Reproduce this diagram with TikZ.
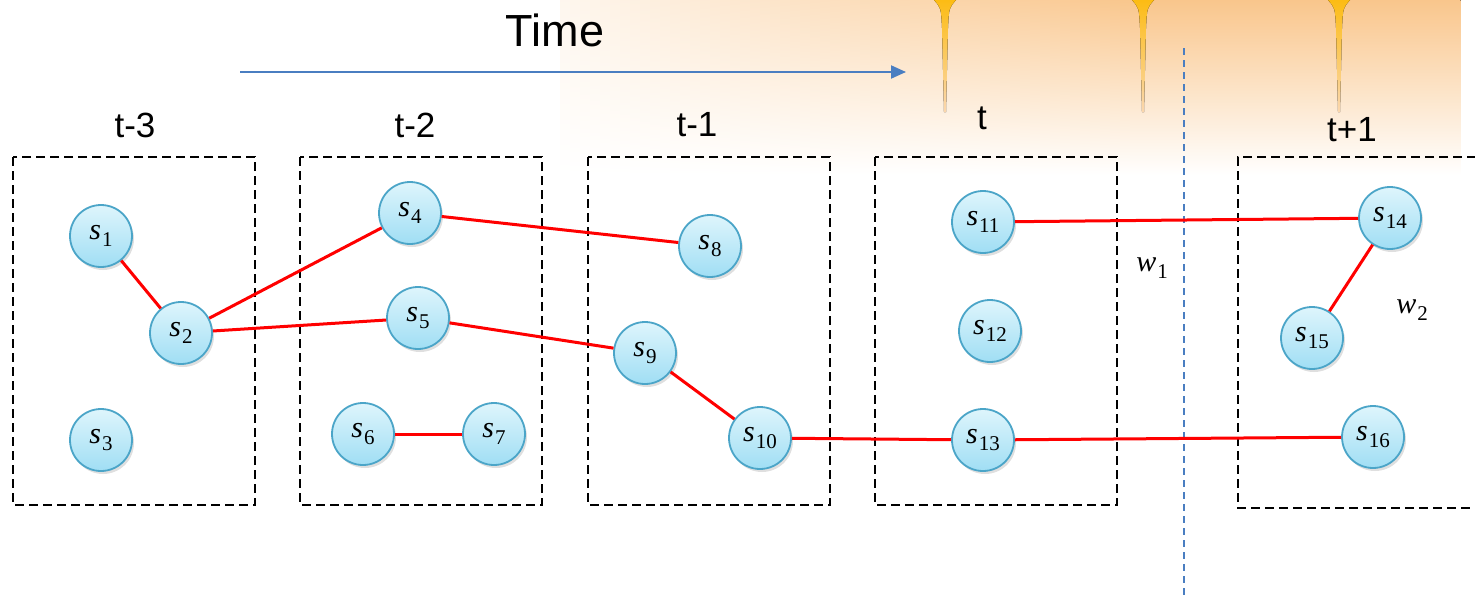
\documentclass[tikz,border=0pt]{standalone}
\usepackage{fontspec}
\setmainfont{Liberation Sans}
\newfontfamily\symfont{Liberation Serif}
\usepackage{tikz}
\usetikzlibrary{arrows.meta,shadows}

\definecolor{nodeedge}{RGB}{75,165,200}
\definecolor{nodetop}{RGB}{222,245,252}
\definecolor{nodebot}{RGB}{160,222,244}
\definecolor{timeblue}{RGB}{74,126,193}
\definecolor{glow}{RGB}{249,198,140}
\definecolor{drip}{RGB}{252,188,20}

% italic letter with a lowered index
\newcommand{\sym}[2]{{\symfont\fontsize{30}{32}\selectfont\itshape #1}\kern1pt\raisebox{-7pt}{\symfont\fontsize{21}{22}\selectfont #2}}

\tikzset{
  state/.style={circle,draw=nodeedge,line width=1.8pt,minimum size=62pt,inner sep=0pt,
    top color=nodetop,bottom color=nodebot,
    drop shadow={shadow xshift=2pt,shadow yshift=-3pt,opacity=0.25}},
  link/.style={red,line width=3pt},
  frame/.style={black,line width=1.8pt,dash pattern=on 9pt off 5pt},
  stamp/.style={font=\fontsize{35}{38}\selectfont},
}

\begin{document}
\begin{tikzpicture}[x=1pt,y=-1pt,>=Stealth]

  \useasboundingbox (0,0) rectangle (1475,597);

  % --- Orange glow in the upper right (thin strips, stronger to the right) ---
  \foreach \i in {0,...,89} {
    \pgfmathsetmacro\gx{560+\i*10}
    \pgfmathsetmacro\gk{min(100,15+\i*1.5)}
    \fill[top color=glow!\gk!white,bottom color=white,draw=none]
      (\gx,0) rectangle (\gx+10.6,175);
  }
  \foreach \sx in {945,1143,1339} {
    \fill[top color=drip,bottom color=glow!70!white]
      (\sx-11,0) .. controls (\sx-4,8) .. (\sx-3,28) -- (\sx-1,112)
      -- (\sx+1,112) -- (\sx+3,28) .. controls (\sx+4,8) .. (\sx+11,0) -- cycle;
  }

  % --- Time axis ---
  \node[font=\fontsize{45}{48}\selectfont] (time) at (555,30) {Time};
  \coordinate (tstart) at (240,72);
  \coordinate (tend) at (906,72);
  \draw[timeblue,line width=2pt,-{Triangle[length=15pt,width=13pt]}] (tstart) -- (tend);

  % --- Time slices ---
  \foreach \bx in {13,300,588,875} {
    \draw[frame] (\bx,157) rectangle +(242,348);
  }
  \draw[frame] (1476,157) -- (1238,157) -- (1238,508) -- (1476,508);

  \node[stamp] (lab3) at (135,125) {t-3};
  \node[stamp] (lab2) at (415,125) {t-2};
  \node[stamp] (lab1) at (697,125) {t-1};
  \node[stamp] (lab0) at (982,118) {t};
  \node[stamp] (labp) at (1352,130) {t+1};

  % --- Split between now and the next step ---
  \coordinate (cuttop) at (1184,48);
  \coordinate (cutbot) at (1184,597);
  \draw[timeblue,line width=1.5pt,dash pattern=on 7pt off 5pt] (cuttop) -- (cutbot);

  % --- States ---
  \foreach \n/\x/\y in {1/101/236, 2/181/333, 3/101/440,
                        4/410/213, 5/418/318, 6/363/434, 7/494/434,
                        8/710/246, 9/645/353, 10/760/438,
                        11/983/222, 12/990/331, 13/983/440,
                        14/1390/218, 15/1312/338, 16/1373/437} {
    \node[state] (s\n) at (\x,\y) {\sym{s}{\n}};
  }

  % --- Links ---
  \foreach \a/\b in {1/2, 2/4, 2/5, 4/8, 5/9, 9/10, 6/7, 10/13, 11/14, 14/15, 13/16} {
    \draw[link] (s\a) -- (s\b);
  }

  % Weights
  \node (w1) at (1152,268) {\sym{w}{1}};
  \node (w2) at (1412,310) {\sym{w}{2}};

\end{tikzpicture}
\end{document}
